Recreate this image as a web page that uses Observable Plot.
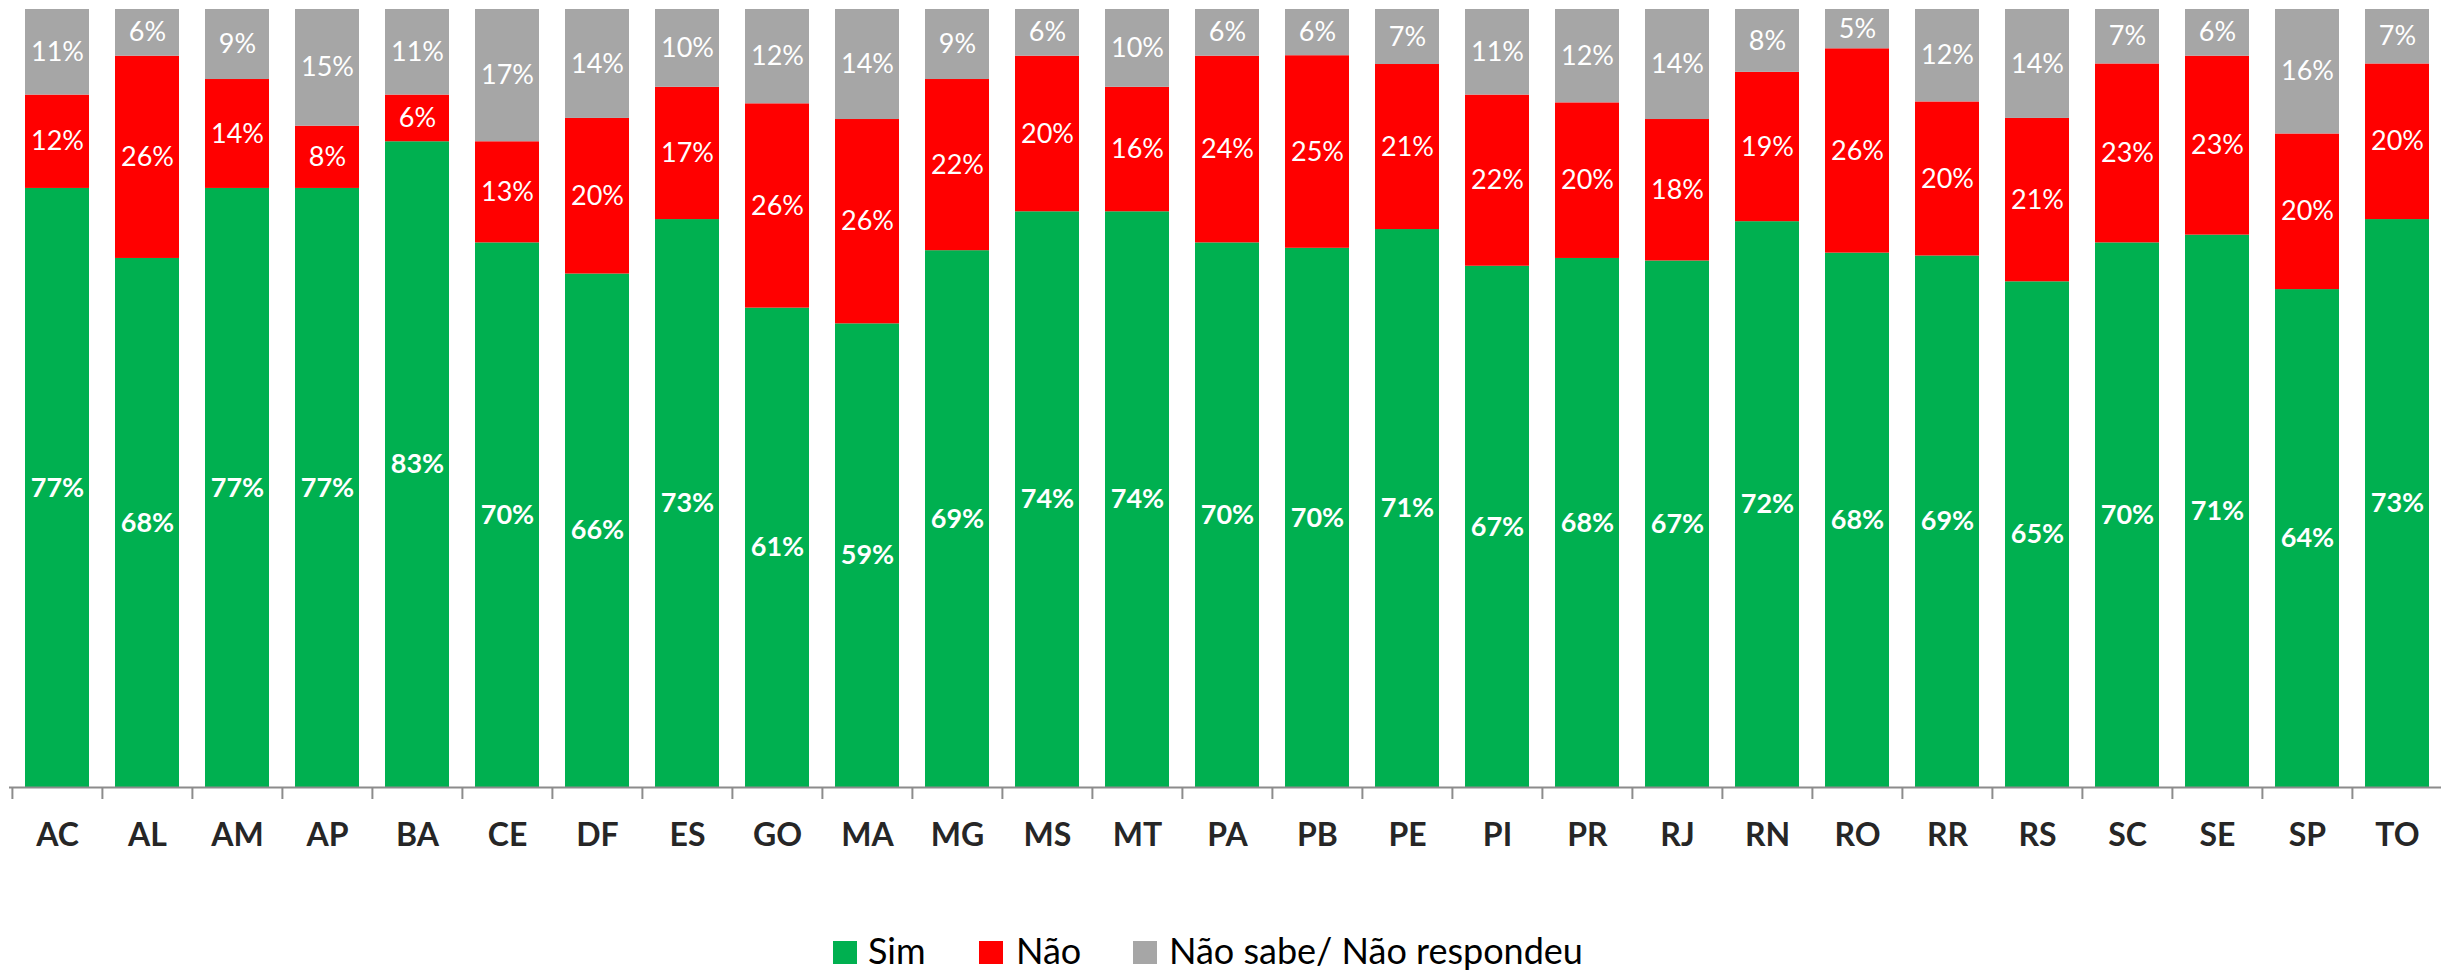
<!DOCTYPE html>
<html>
<head>
<meta charset="utf-8">
<script src="https://cdn.jsdelivr.net/npm/d3@7"></script>
<script src="https://cdn.jsdelivr.net/npm/@observablehq/plot@0.6"></script>
<style>
  html, body { margin: 0; padding: 0; background: #ffffff; }
  #chart svg { display: block; }
  #legend { display: block; }
</style>
</head>
<body>
<div id="chart"></div>
<svg id="legend" width="2441" height="73"></svg>
<script>
const states = ["AC","AL","AM","AP","BA","CE","DF","ES","GO","MA","MG","MS","MT","PA","PB","PE","PI","PR","RJ","RN","RO","RR","RS","SC","SE","SP","TO"];
const sim    = [77,68,77,77,83,70,66,73,61,59,69,74,74,70,70,71,67,68,67,72,68,69,65,70,71,64,73];
const nao    = [12,26,14, 8, 6,13,20,17,26,26,22,20,16,24,25,21,22,20,18,19,26,20,21,23,23,20,20];
const naoSabe= [11, 6, 9,15,11,17,14,10,12,14, 9, 6,10, 6, 6, 7,11,12,14, 8, 5,12,14, 7, 6,16, 7];
const seriesNames = ["Sim", "Não", "Não sabe/ Não respondeu"];
const seriesColors = ["#00B050", "#FF0000", "#A6A6A6"];

const data = states.flatMap((s, i) => [
  {state: s, serie: seriesNames[0], value: sim[i]},
  {state: s, serie: seriesNames[1], value: nao[i]},
  {state: s, serie: seriesNames[2], value: naoSabe[i]}
]);

const stackOpts = {offset: "normalize", order: seriesNames};

const chart = Plot.plot({
  width: 2441,
  height: 900,
  marginTop: 9,
  marginBottom: 113,
  marginLeft: 9,
  marginRight: 0,
  style: {fontFamily: "Lato, 'Open Sans', sans-serif", background: "#ffffff"},
  x: {domain: states, range: [9.3, 2444.7], paddingInner: 0.29, paddingOuter: 0.145, axis: null},
  y: {domain: [0, 1], axis: null},
  color: {domain: seriesNames, range: seriesColors},
  marks: [
    Plot.barY(data, Plot.stackY(stackOpts, {x: "state", y: "value", fill: "serie", z: "serie"})),
    Plot.text(data, Plot.stackY(stackOpts, {
      x: "state", y: "value", z: "serie",
      text: d => d.serie === seriesNames[0] ? d.value + "%" : null,
      fill: "white", fontSize: 27, fontWeight: "bold"
    })),
    Plot.text(data, Plot.stackY(stackOpts, {
      x: "state", y: "value", z: "serie",
      text: d => d.serie !== seriesNames[0] ? d.value + "%" : null,
      fill: "white", fontSize: 27
    })),
    Plot.ruleY([0], {stroke: "#8c8c8c", strokeWidth: 2}),
    Plot.axisX({tickSize: 12, fill: "none", stroke: "#8c8c8c", strokeWidth: 2, dx: -45.1, label: null}),
    Plot.axisX({tickSize: 0, tickPadding: 36, fontSize: 32, fontWeight: "bold", fill: "#262626", label: null})
  ]
});
document.getElementById("chart").appendChild(chart);

// Legend
const legendLayout = [
  {sx: 833, tx: 868},
  {sx: 979, tx: 1016},
  {sx: 1133, tx: 1169}
];
const leg = d3.select("#legend");
seriesNames.forEach((name, i) => {
  const L = legendLayout[i];
  leg.append("rect").attr("x", L.sx).attr("y", 41).attr("width", 24).attr("height", 23).attr("fill", seriesColors[i]);
  leg.append("text").attr("x", L.tx).attr("y", 64)
    .attr("font-family", "Lato, 'Open Sans', sans-serif").attr("font-size", 36)
    .attr("fill", "#000000")
    .text(name);
});
</script>
</body>
</html>
